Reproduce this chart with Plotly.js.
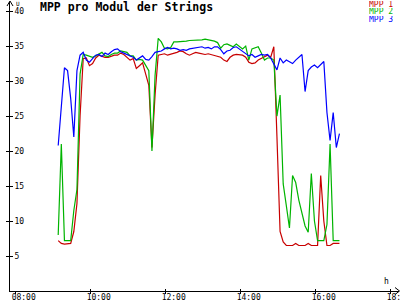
<!DOCTYPE html>
<html>
<head>
<meta charset="utf-8">
<script src="https://cdn.plot.ly/plotly-3.0.1.min.js"></script>
<style>html,body{margin:0;padding:0;background:#fff}#chart{width:400px;height:300px}</style>
</head>
<body>
<div id="chart"></div>
<script>
var day = '2024-06-01 ';
var times = [
'09:08','09:13','09:18','09:23','09:28','09:33','09:38','09:43','09:48','09:53','09:58',
'10:03','10:08','10:13','10:18','10:23','10:28','10:33','10:38','10:43','10:48','10:53','10:58',
'11:03','11:08','11:13','11:18','11:23','11:28','11:33','11:38','11:43','11:48','11:53','11:58',
'12:03','12:08','12:13','12:18','12:23','12:28','12:33','12:38','12:43','12:48','12:53','12:58',
'13:03','13:08','13:13','13:18','13:23','13:28','13:33','13:38','13:43','13:48','13:53','13:58',
'14:03','14:08','14:13','14:18','14:23','14:28','14:33','14:38','14:43','14:48','14:53','14:58',
'15:03','15:08','15:13','15:18','15:23','15:28','15:33','15:38','15:43','15:48','15:53','15:58',
'16:03','16:08','16:13','16:18','16:23','16:28','16:33','16:38'];

var mpp1 = [
7.2,6.8,6.7,6.8,6.8,8.5,12.5,25,33.2,33.3,32.2,
32.5,33.3,33.7,33.5,33.4,33.4,33.6,33.7,33.7,34,33.8,33.4,
33,33.2,31.8,32.2,32.6,31,29.4,20.5,28,33.7,33.8,33.9,
33.7,33.8,34,34.1,34.3,34.2,33.9,33.7,33.9,34.1,34,33.9,
33.8,33.9,33.8,33.7,33.6,33.4,33,32.8,33.4,33.7,33.8,33.8,
33.7,33.4,32.7,32.5,32.6,33,33.2,33.5,33.7,33.4,34.9,22,
8.5,7,6.5,6.5,6.5,6.8,6.5,6.5,6.5,6.8,6.5,6.5,
6.5,16.5,10,6.5,6.5,6.8,6.8,6.8];

var mpp2 = [
8,21,7.2,7.2,7.2,11.5,14.5,31,33.8,33.7,33.5,
33.4,33.6,33.9,34.1,33.6,33.5,33.8,34,34,34.3,34.2,34.1,
33.6,33.6,33,33.1,33,32.2,31.5,20,30.8,36.1,35.6,34.7,
34.6,34.8,35.6,35.6,35.6,35.6,35.7,35.8,35.8,35.9,35.9,35.9,
36,35.9,35.9,35.7,35.5,34.7,35.2,35.3,35.1,34.9,35.3,34.9,
34.6,35,33,34.6,34.8,34.9,34,33,33.3,33.3,33,25,
28,15.3,12.2,9,16.5,15.5,13,11,9.3,8.4,16.8,10,
7.2,7.2,7.2,9.5,21,7.2,7.2,7.2];

var mpp3 = [
20.8,26,31.9,31.5,27.5,22,31.5,33.7,34.1,33,32.7,
33.2,33.7,33.8,33.5,34,33.8,34.2,34.5,34.6,34.2,34,33.8,
33.7,33.4,33,33.3,33.6,33.1,33,33.5,34.1,34.2,34.3,34.6,
34.8,34.6,34.7,34.6,34.4,34.5,34.4,34.6,34.7,34.8,34.9,34.9,
34.7,34.8,34.6,34.9,34.9,34.5,33.9,34.3,34.4,34.8,34.9,34.6,
34.3,33.9,33.6,33.8,33.4,33.6,33.8,33.7,33.8,33.3,32.4,31.6,
33.3,32.6,33,32.8,32.5,33,33.4,33.8,28.5,31.5,32,32.3,
31.9,32.4,32.8,25.5,21.5,25.5,20.5,22.5];

var seriesNames = ['MPP 1','MPP 2','MPP 3'];
var seriesColors = ['#c80000','#00b400','#0000ff'];
var xTickLabels = ['08:00','10:00','12:00','14:00','16:00','18:00'];
var yTickVals = [5,10,15,20,25,30,35,40];

var xs = times.map(function(t){return day + t;});
var allY = [mpp1, mpp2, mpp3];
var traces = allY.map(function(y, i){
  return {x: xs, y: y, type: 'scatter', mode: 'lines', name: seriesNames[i],
          line: {color: seriesColors[i], width: 1.2}, hoverinfo: 'skip'};
});
traces.push({x: [], y: [], xaxis: 'x2', yaxis: 'y2', type: 'scatter', mode: 'lines', showlegend: false});

var L = 10, R = 1, T = 2, B = 9, W = 400, H = 300;
function px(p){ return (p - L) / (W - L - R); }
function py(p){ return (H - B - p) / (H - T - B); }

var mono = 'DejaVu Sans Mono, monospace';
var xr = [day + '07:50:53', day + '18:13:17'];
var yr = [0, 41.3];
var tickX = xTickLabels.map(function(t){return day + t;});

var annotations = [
  {text: 'U', xref: 'paper', yref: 'paper', x: px(17.5), y: py(3.5), showarrow: false,
   xanchor: 'center', yanchor: 'middle', height: 6, font: {family: mono, size: 6, color: '#000'}},
  {text: 'h', xref: 'paper', yref: 'paper', x: px(386.5), y: py(281.5), showarrow: false,
   xanchor: 'center', yanchor: 'middle', font: {family: mono, size: 8, color: '#000'}}
];
var legendY = [4.5, 12, 19.5];
seriesNames.forEach(function(n, i){
  annotations.push({text: n, xref: 'paper', yref: 'paper', x: px(395), y: py(legendY[i]),
    showarrow: false, xanchor: 'right', yanchor: 'middle', height: 7,
    font: {family: mono, size: 8, color: seriesColors[i]}});
});

function pathOf(pts){
  return pts.map(function(p, i){ return (i ? 'L' : 'M') + px(p[0]) + ',' + py(p[1]); }).join(' ');
}
var shapes = [
  {type: 'path', xref: 'paper', yref: 'paper', path: pathOf([[7,6],[10,1],[13,6]]), line: {color: '#000', width: 1}},
  {type: 'path', xref: 'paper', yref: 'paper', path: pathOf([[395,287.5],[399.5,291],[395,294.5]]), line: {color: '#000', width: 1}}
];

var layout = {
  width: W, height: H,
  margin: {l: L, r: R, t: T, b: B, pad: 0},
  paper_bgcolor: '#fff', plot_bgcolor: '#fff',
  showlegend: false,
  title: {text: '<b>MPP pro Modul der Strings</b>', font: {family: mono, size: 11.5, color: '#000'},
          x: 40 / W, xanchor: 'left', y: 1 - 7 / H, yanchor: 'middle', xref: 'container', yref: 'container'},
  xaxis: {type: 'date', range: xr, showline: true, linecolor: '#000', linewidth: 1,
          ticks: 'outside', ticklen: 2, tickcolor: '#000', tickwidth: 1,
          tickvals: tickX, ticktext: xTickLabels, showgrid: false, zeroline: false,
          tickfont: {family: mono, size: 8, color: '#000'}, ticklabelshift: 8, ticklabelstandoff: -4,
          ticklabeloverflow: 'allow', fixedrange: true},
  yaxis: {range: yr, showline: true, linecolor: '#000', linewidth: 1,
          ticks: 'outside', ticklen: 3, tickcolor: '#000', tickwidth: 1,
          tickvals: yTickVals, showticklabels: false, showgrid: false, zeroline: false, fixedrange: true},
  xaxis2: {type: 'date', range: xr, overlaying: 'x', side: 'bottom', anchor: 'y2', showline: false,
           ticks: 'inside', ticklen: 2, tickcolor: '#000', tickvals: tickX, showticklabels: false,
           showgrid: false, zeroline: false, fixedrange: true},
  yaxis2: {range: yr, overlaying: 'y', side: 'left', anchor: 'x2', showline: false,
           ticks: 'inside', ticklen: 3, tickcolor: '#000', tickwidth: 1, tickvals: yTickVals,
           showticklabels: true, ticklabelposition: 'inside',
           tickfont: {family: mono, size: 8, color: '#000'},
           showgrid: false, zeroline: false, fixedrange: true},
  annotations: annotations,
  shapes: shapes
};

Plotly.newPlot('chart', traces, layout, {staticPlot: true, displayModeBar: false});
</script>
</body>
</html>
